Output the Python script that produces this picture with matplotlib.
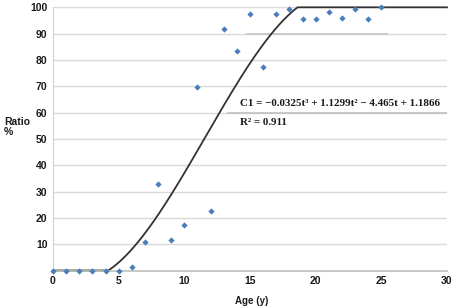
import numpy as np
import matplotlib
matplotlib.use("Agg")
import matplotlib.pyplot as plt

age = [0, 1, 2, 3, 4, 5, 6, 7, 8, 9, 10, 11, 12, 13, 14, 15, 16, 17, 18, 19, 20, 21, 22, 23, 24, 25]
ratio = [0, 0, 0, 0, 0, 0, 1.2, 10.9, 33, 11.6, 17.1, 69.8, 22.6, 91.9, 83.5, 97.5, 77.4, 97.5,
         99.4, 95.5, 95.5, 98.2, 96.1, 99.4, 95.5, 100]
coef = [-0.0325, 1.1299, -4.465, 1.1866]
xticks = [0, 5, 10, 15, 20, 25, 30]
yticks = [10, 20, 30, 40, 50, 60, 70, 80, 90, 100]
eq_text = "C1 = \u22120.0325t\u00b3 + 1.1299t\u00b2 \u2212 4.465t + 1.1866"
r2_text = "R\u00b2 = 0.911"

fig = plt.figure(figsize=(4.54, 3.06), dpi=100)
ax = fig.add_axes([53/454, 1-270.5/306, (447-53)/454, (270.5-7.3)/306])

ax.set_xlim(0, 30)
ax.set_ylim(0, 100)

for y in yticks:
    ax.axhline(y, color="#d9d9d9", lw=1.0, zorder=0)
# faint textbox edges from original
ax.axhline(90, xmin=(247-53)/394, xmax=(387-53)/394, color="#c8c8c8", lw=1.3, zorder=0.5)
ax.axhline(60, xmin=(228-53)/394, xmax=1, color="#c4c4c4", lw=1.3, zorder=0.5)

t = np.linspace(0, 30, 900)
p = np.polyval(coef, t)
early = t < 10
t_low = t[early][np.argmin(p[early])]
c = np.clip(p, 0, 100)
c[t < t_low] = 0
c = np.maximum.accumulate(c)
ax.plot(t, c, color="#333333", lw=1.3, zorder=2, clip_on=False)

ax.plot(age, ratio, linestyle="none", marker="D", markersize=3.2, color="#4a7ebb",
        markeredgewidth=0, zorder=3, clip_on=False)

for s in ["top", "right"]:
    ax.spines[s].set_visible(False)
ax.spines["left"].set_color("#d0d0d0")
ax.spines["bottom"].set_color("#bfbfbf")
ax.spines["bottom"].set_linewidth(1.2)

ax.set_xticks(xticks)
ax.set_yticks(yticks)
ax.tick_params(length=0, pad=4, labelsize=7.5)
for lab in ax.get_xticklabels() + ax.get_yticklabels():
    lab.set_fontfamily("Liberation Sans")
    lab.set_fontweight("bold")
    lab.set_color("#1a1a1a")

fig.text(4/454, 1-127/306, "Ratio\n%", fontsize=7.5, fontweight="bold", family="Liberation Sans",
         ha="left", va="center", linespacing=1.1, color="#1a1a1a")
fig.text(252/454, 1-301/306, "Age (y)", fontsize=7, fontweight="bold", family="Liberation Sans",
         ha="center", va="center", color="#1a1a1a")

fig.text(240/454, 1-103.5/306, eq_text, fontsize=7.9, fontweight="bold", family="Liberation Serif",
         ha="left", va="center", color="#1a1a1a")
fig.text(240/454, 1-122.7/306, r2_text, fontsize=7.9, fontweight="bold", family="Liberation Serif",
         ha="left", va="center", color="#1a1a1a")

fig.savefig("out.png", dpi=100)
